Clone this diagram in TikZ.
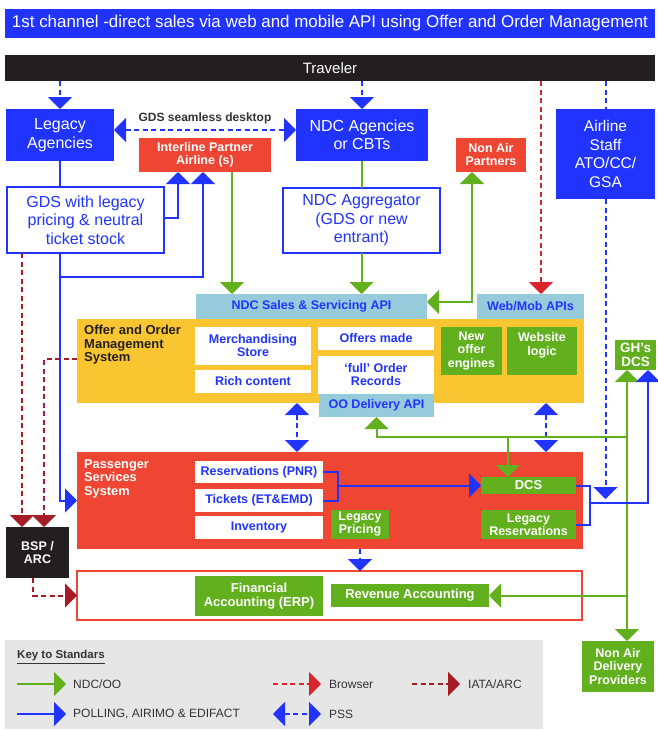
\documentclass[tikz,border=0pt]{standalone}
\usepackage{fontspec}
\setmainfont{Liberation Sans}
\usetikzlibrary{arrows.meta,calc}

\definecolor{cblue}{RGB}{33,52,255}
\definecolor{cred}{RGB}{239,69,51}
\definecolor{cgreen}{RGB}{98,176,30}
\definecolor{cyellow}{RGB}{249,197,49}
\definecolor{clight}{RGB}{150,203,220}
\definecolor{cdark}{RGB}{35,31,32}
\definecolor{cmaroon}{RGB}{165,28,36}
\definecolor{cbrowser}{RGB}{218,37,45}
\definecolor{ckey}{RGB}{230,230,230}
\definecolor{ctext}{RGB}{51,51,51}

\tikzset{
  >={Triangle[width=24pt,length=12pt]},
  box/.style={inner sep=0pt, outer sep=0pt, align=center,
    font=\fontsize{12.5}{13}\selectfont\bfseries},
  bluebox/.style={box, fill=cblue, text=white, font=\fontsize{16}{18.5}\selectfont},
  redbox/.style={box, fill=cred, text=white},
  greenbox/.style={box, fill=cgreen, text=white},
  whitebox/.style={box, fill=white, text=cblue},
  apibox/.style={box, fill=clight, text=cblue},
  outlinebox/.style={box, fill=white, draw=cblue, line width=2.7pt, text=cblue,
    font=\fontsize{16}{18.5}\selectfont},
  ndc/.style={draw=cgreen, line width=2pt},
  poll/.style={draw=cblue, line width=2pt},
  pssd/.style={draw=cblue, line width=2pt, dash pattern=on 5pt off 3.5pt},
  brow/.style={draw=cbrowser, line width=2pt, dash pattern=on 5pt off 3.5pt},
  iata/.style={draw=cmaroon, line width=2pt, dash pattern=on 5pt off 3.5pt},
  keytext/.style={anchor=west, inner sep=0pt, text=ctext, font=\fontsize{12}{12}\selectfont},
}

\begin{document}
\begin{tikzpicture}[x=1pt, y=-1pt]
\useasboundingbox (0,0) rectangle (657,731);

% header bars
\node[box, fill=cblue, text=white, font=\fontsize{17}{17}\selectfont,
  minimum width=650pt, minimum height=29pt] (title) at (330,23.5)
  {\resizebox{636pt}{\height}{1st channel -direct sales via web and mobile API using Offer and Order Management}};
\node[box, fill=cdark, text=white, font=\fontsize{15}{15}\selectfont,
  minimum width=650pt, minimum height=26pt] (traveler) at (330,68) {Traveler};

% sales channels
\node[bluebox, minimum width=108pt, minimum height=52pt] (legacy) at (60,135) {Legacy\\Agencies};
\node[bluebox, minimum width=132pt, minimum height=52pt] (ndcag) at (362,135) {NDC Agencies\\or CBTs};
\node[bluebox, font=\fontsize{15.5}{18.7}\selectfont, minimum width=99pt, minimum height=90pt]
  (staff) at (605.5,154) {Airline\\Staff\\ATO/CC/\\GSA};
\node[redbox, minimum width=132pt, minimum height=34pt] (interline) at (205,155) {Interline Partner\\Airline (s)};
\node[redbox, minimum width=70pt, minimum height=34pt] (nonair) at (491,155) {Non Air\\Partners};
\node[outlinebox, minimum width=157pt, minimum height=66pt] (gds) at (85.5,220)
  {GDS with legacy\\pricing \& neutral\\ticket stock};
\node[outlinebox, minimum width=157pt, minimum height=65pt] (aggr) at (361.5,220.5)
  {NDC Aggregator\\(GDS or new\\entrant)};
\node[inner sep=0pt, text=ctext, font=\fontsize{12}{12}\selectfont\bfseries] (gdslbl) at (205,118)
  {GDS seamless desktop};

% offer and order management
\node[box, fill=cyellow, minimum width=507pt, minimum height=84pt] (ooms) at (330.5,361) {};
\node[anchor=north west, align=left, inner sep=0pt, text=cdark,
  font=\fontsize{13}{13.5}\selectfont\bfseries] (oomstxt) at (84,325) {Offer and Order\\Management\\System};
\node[apibox, minimum width=231pt, minimum height=25pt] (ndcapi) at (311.5,306.5) {NDC Sales \& Servicing API};
\node[apibox, minimum width=107pt, minimum height=25pt] (webapi) at (530.5,306.5) {Web/Mob APIs};
\node[whitebox, minimum width=116pt, minimum height=38pt] (merch) at (253,346) {Merchandising\\Store};
\node[whitebox, minimum width=116pt, minimum height=23pt] (rich) at (253,381.5) {Rich content};
\node[whitebox, minimum width=116pt, minimum height=23pt] (offers) at (376,338.5) {Offers made};
\node[whitebox, minimum width=116pt, minimum height=38pt] (full) at (376,375) {`full' Order\\Records};
\node[apibox, minimum width=115pt, minimum height=23pt] (oodel) at (376.5,405.5) {OO Delivery API};
\node[greenbox, font=\fontsize{12.5}{13.5}\selectfont\bfseries, minimum width=61pt, minimum height=48pt]
  (neweng) at (471.5,351) {New\\offer\\engines};
\node[greenbox, minimum width=70pt, minimum height=48pt] (webl) at (542,351) {};
\node[inner sep=0pt, align=center, text=white, font=\fontsize{12.5}{14}\selectfont\bfseries]
  (webltxt) at (542,345) {Website\\logic};
\node[greenbox, font=\fontsize{13.5}{14}\selectfont\bfseries, minimum width=41pt, minimum height=30pt]
  (ghdcs) at (635.5,355) {GH's\\DCS};

% passenger services system
\node[box, fill=cred, minimum width=506pt, minimum height=97pt] (pss) at (330,500.5) {};
\node[anchor=north west, align=left, inner sep=0pt, text=white,
  font=\fontsize{12.8}{13.5}\selectfont\bfseries] (psstxt) at (84,459) {Passenger\\Services\\System};
\node[whitebox, minimum width=128pt, minimum height=22pt] (resv) at (259,472) {Reservations (PNR)};
\node[whitebox, minimum width=128pt, minimum height=23pt] (tick) at (259,500.5) {Tickets (ET\&EMD)};
\node[whitebox, minimum width=128pt, minimum height=23pt] (inv) at (259,527.5) {Inventory};
\node[greenbox, minimum width=58pt, minimum height=29pt] (lpric) at (360,524.5) {Legacy\\Pricing};
\node[greenbox, font=\fontsize{13}{13}\selectfont\bfseries, minimum width=95pt, minimum height=17pt]
  (dcs) at (528.5,485.5) {DCS};
\node[greenbox, minimum width=95pt, minimum height=29pt] (lres) at (528.5,524.5) {Legacy\\Reservations};
\node[box, fill=cdark, text=white, minimum width=63pt, minimum height=51pt] (bsp) at (37.5,552.5) {BSP /\\ARC};

% accounting
\node[draw=cred, line width=2.5pt, fill=white, inner sep=0pt, outer sep=0pt,
  minimum width=505pt, minimum height=49pt] (fin) at (329.5,595.5) {};
\node[greenbox, font=\fontsize{13}{14.5}\selectfont\bfseries, minimum width=128pt, minimum height=40pt]
  (finacc) at (259,596) {Financial\\Accounting (ERP)};
\node[greenbox, font=\fontsize{13}{13}\selectfont\bfseries, minimum width=158pt, minimum height=23pt]
  (revacc) at (410,595.5) {Revenue Accounting};
\node[greenbox, font=\fontsize{12.5}{13.5}\selectfont\bfseries, minimum width=72pt, minimum height=51pt]
  (nadp) at (618,666.5) {Non Air\\Delivery\\Providers};

% helper points for connector routes
\coordinate (webbr) at ([xshift=10.5pt]webapi.north);
\coordinate (staffend) at (605.5,499);
\coordinate (gdsout) at (legacy.south |- gds.south);
\coordinate (ia) at ([xshift=-39pt]interline.south east);
\coordinate (na) at ([xshift=16pt]nonair.south west);
\coordinate (apiin) at ([yshift=4.5pt]ndcapi.east);
\coordinate (p1) at (297,0);
\coordinate (p2) at (546,0);
\coordinate (gv) at (627,437);
\coordinate (gd) at (508,437);
\coordinate (pt) at (338,486);
\coordinate (br) at (590,503);
\coordinate (gb) at (648,0);
\coordinate (ib) at ([xshift=15pt]gds.south west);
\coordinate (ob) at (44,0);

% traveler access
\draw[pssd,->] (traveler.south -| legacy.north) -- (legacy.north);
\draw[pssd,->] (traveler.south -| ndcag.north) -- (ndcag.north);
\draw[brow,->] (traveler.south -| webbr) -- (webbr);
\draw[pssd] (traveler.south -| staff.north) -- (staff.north);
\draw[pssd,->] (staff.south) -- (staffend);
\draw[pssd,<->] ([yshift=5pt]legacy.east) -- ([yshift=5pt]ndcag.west);

% legacy distribution
\draw[poll] (legacy.south) -- (gdsout |- gds.north);
\draw[poll,->] ([yshift=2pt]gds.east) -| ([xshift=39pt]interline.south west);
\draw[poll,->] (gdsout) -- ++(0,24) -| ([xshift=-2pt]interline.south);
\draw[poll,->] (gdsout) |- (pss.west);

% NDC distribution
\draw[ndc,->] (ia) -- (ia |- ndcapi.north);
\draw[ndc] (ndcag.south) -- (ndcag.south |- aggr.north);
\draw[ndc,->] (aggr.south) -- (aggr.south |- ndcapi.north);
\draw[ndc,<->] (na) |- (apiin);

% OOMS to PSS
\draw[pssd,<->] (ooms.south -| p1) -- (pss.north -| p1);
\draw[pssd,<->] (ooms.south -| p2) -- (pss.north -| p2);

% order delivery network
\draw[ndc,<->] (ghdcs.south -| gv) -- (nadp.north -| gv);
\draw[ndc,<-] (oodel.south) |- (gv);
\draw[ndc,->] (gd) -- (dcs.north -| gd);
\draw[ndc,->] (revacc.east -| gv) -- (revacc.east);

% PSS internals
\draw[poll] (resv.east) -- ++(15,0) |- (tick.east);
\draw[poll,->] (pt |- dcs.west) -- (dcs.west);
\draw[poll] (dcs.east) -- ++(14,0) |- (lres.east);
\draw[poll,->] (br) -| (ghdcs.south -| gb);
\draw[pssd,->] (lpric.south |- pss.south) -- (lpric.south |- fin.north);

% settlement
\draw[iata,->] (ib) -- (ib |- bsp.north);
\draw[iata,->] ([yshift=2pt]ooms.west) -| (bsp.north -| ob);
\draw[iata,->] ([xshift=-4.5pt]bsp.south) |- (fin.west);

% key
\node[fill=ckey, inner sep=0pt, minimum width=538pt, minimum height=89pt] (key) at (274,684.5) {};
\node[anchor=west, inner sep=0pt, text=ctext, font=\fontsize{11.5}{12}\selectfont\bfseries]
  (keyttl) at (17,657) {\underline{Key to Standars}};
\coordinate (k1a) at (17,684);  \coordinate (k1b) at (66,684);
\coordinate (k2a) at (273,684); \coordinate (k2b) at (321,684);
\coordinate (k3a) at (412,684); \coordinate (k3b) at (460,684);
\coordinate (k4a) at (17,714);  \coordinate (k4b) at (66,714);
\coordinate (k5a) at (273,714); \coordinate (k5b) at (321,714);
\draw[ndc,->] (k1a) -- (k1b);
\draw[brow,->] (k2a) -- (k2b);
\draw[iata,->] (k3a) -- (k3b);
\draw[poll,->] (k4a) -- (k4b);
\draw[pssd,<->] (k5a) -- (k5b);
\node[keytext] (kt1) at (73,684) {NDC/OO};
\node[keytext] (kt2) at (329,684) {Browser};
\node[keytext] (kt3) at (468,684) {IATA/ARC};
\node[keytext] (kt4) at (73,714) {POLLING, AIRIMO \& EDIFACT};
\node[keytext] (kt5) at (329,714) {PSS};
\end{tikzpicture}
\end{document}
